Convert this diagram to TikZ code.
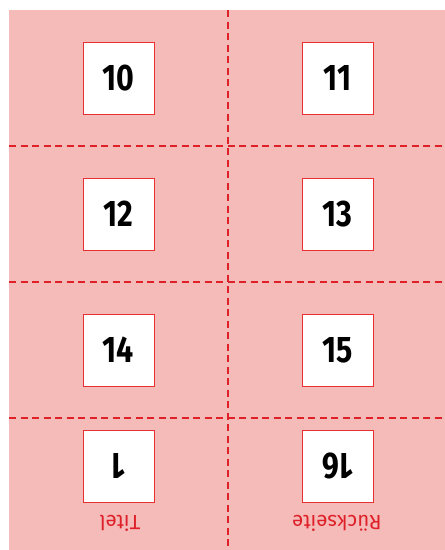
\documentclass[tikz,border=0pt]{standalone}
\usepackage{fontspec}
\setmainfont{Fira Sans}
\newfontfamily\numfont[FakeStretch=0.82]{Fira Sans}
\definecolor{sheet}{RGB}{245,187,185}
\definecolor{cutred}{RGB}{222,32,40}
\definecolor{boxred}{RGB}{232,48,48}
\begin{document}
\begin{tikzpicture}[x=1pt,y=-1pt,
  pagebox/.style={draw=boxred,line width=1pt,fill=white,minimum width=71pt,minimum height=72pt,inner sep=0pt,
    font=\numfont\bfseries\fontsize{37}{37}\selectfont},
  cutline/.style={draw=cutred,line width=1.8pt,dash pattern=on 7pt off 4.5pt},
  sidelabel/.style={text=cutred,font=\fontsize{20.5}{20.5}\selectfont,rotate=180}]
\useasboundingbox (0,0) rectangle (445,550);
\fill[sheet] (9,10) rectangle (445,550);
\coordinate (vt) at (228,10);
\coordinate (vb) at (228,550);
\coordinate (h1l) at (9,146); \coordinate (h1r) at (445,146);
\coordinate (h2l) at (9,282); \coordinate (h2r) at (445,282);
\coordinate (h3l) at (9,418); \coordinate (h3r) at (445,418);
\draw[cutline] (vt) -- (vb);
\draw[cutline] (h1l) -- (h1r);
\draw[cutline] (h2l) -- (h2r);
\draw[cutline] (h3l) -- (h3r);
\node[pagebox] (p10) at (118.5,78) {10};
\node[pagebox] (p11) at (337.5,78) {11};
\node[pagebox] (p12) at (118.5,214) {12};
\node[pagebox] (p13) at (337.5,214) {13};
\node[pagebox] (p14) at (118.5,350) {14};
\node[pagebox] (p15) at (337.5,350) {15};
\node[pagebox,rotate=180] (p1) at (118.5,466) {1};
\node[pagebox,rotate=180] (p16) at (337.5,466) {16};
\node[sidelabel] (titel) at (120,523) {Titel};
\node[sidelabel] (rueck) at (337,523) {Rückseite};
\end{tikzpicture}
\end{document}
